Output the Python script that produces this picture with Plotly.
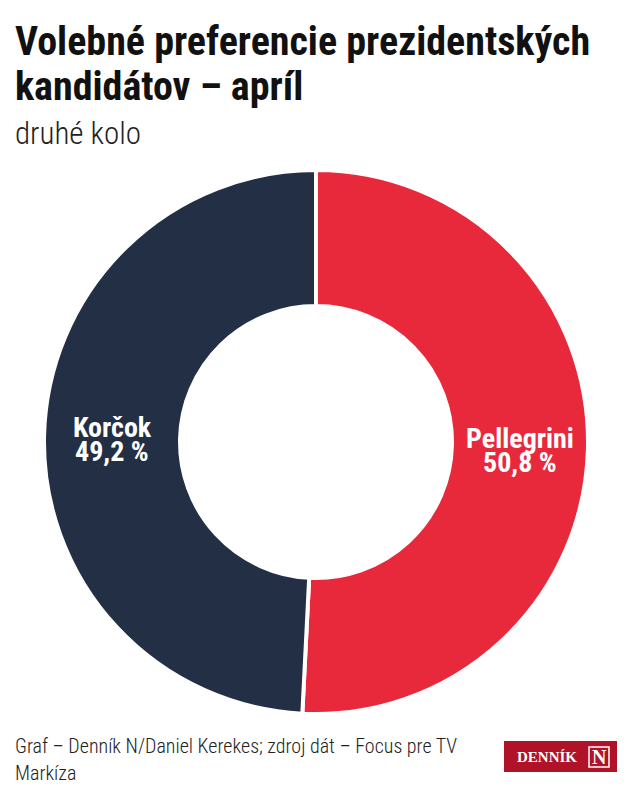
import math
import plotly.graph_objects as go

candidates = ["Pellegrini", "Korčok"]
shares = [50.8, 49.2]
share_labels = ["50,8 %", "49,2 %"]
colors = ["#E8293B", "#232F45"]

title_lines = ["Volebné preferencie prezidentských", "kandidátov – apríl"]
subtitle = "druhé kolo"
footer_lines = ["Graf – Denník N/Daniel Kerekes; zdroj dát – Focus pre TV", "Markíza"]

W, H = 632, 800
COND = "Roboto Condensed, Liberation Sans Narrow, Roboto, sans-serif"
SERIF = "Liberation Serif, DejaVu Serif, serif"

# pie geometry (pixels)
cx, cy, R, HOLE = 316, 442, 272, 0.5

fig = go.Figure(go.Pie(
    labels=candidates,
    values=shares,
    textinfo="none",
    marker=dict(colors=colors, line=dict(color="white", width=4)),
    hole=HOLE,
    sort=False,
    direction="clockwise",
    rotation=0,
    showlegend=False,
    hoverinfo="label+percent",
    domain=dict(x=[(cx - R) / W, (cx + R) / W], y=[1 - (cy + R) / H, 1 - (cy - R) / H]),
))

def px(x, y):
    return x / W, 1 - y / H

annotations = []

# slice labels at centroid of each ring segment, computed from data
total = sum(shares)
start = 0.0
rmid = R * (1 + HOLE) / 2
for name, val, lab in zip(candidates, shares, share_labels):
    mid = start + val / total * 360 / 2
    start += val / total * 360
    ang = math.radians(mid)  # clockwise from top
    lx = cx + rmid * math.sin(ang)
    ly = cy - rmid * math.cos(ang) + 3
    for txt, dy in ((name, -12), (lab, 12)):
        x, y = px(lx, ly + dy)
        annotations.append(dict(text=f"<b>{txt}</b>", x=x, y=y, xref="paper", yref="paper",
                                xanchor="center", yanchor="middle", showarrow=False,
                                font=dict(family=COND, size=28, color="white")))

def add_text(txt, x, y, size, color, weight=None, family=COND, xanchor="left"):
    xx, yy = px(x, y)
    f = dict(family=family, size=size, color=color)
    if weight:
        f["weight"] = weight
    annotations.append(dict(text=txt, x=xx, y=yy, xref="paper", yref="paper",
                            xanchor=xanchor, yanchor="middle", align="left",
                            showarrow=False, font=f))

add_text(f"<b>{title_lines[0]}</b>", 13, 42, 40, "#111")
add_text(f"<b>{title_lines[1]}</b>", 13, 86, 40, "#111")
add_text(subtitle, 13, 133, 31, "#222", weight=300)
add_text(footer_lines[0], 13, 746, 20, "#222", weight=300)
add_text(footer_lines[1], 13, 773, 20, "#222", weight=300)
add_text("<b>DENNÍK</b>", 547, 757, 15, "white", family=SERIF, xanchor="center")
add_text("<b>N</b>", 599, 757, 20, "white", family=SERIF, xanchor="center")

x0, y0 = px(504, 772)
x1, y1 = px(617, 741)
bx0, by0 = px(589, 767)
bx1, by1 = px(609, 747)

fig.update_layout(
    width=W, height=H,
    margin=dict(l=0, r=0, t=0, b=0),
    paper_bgcolor="white",
    plot_bgcolor="white",
    annotations=annotations,
    shapes=[
        dict(type="rect", xref="paper", yref="paper", x0=x0, x1=x1, y0=y0, y1=y1,
             fillcolor="#B01227", line=dict(width=0), layer="below"),
        dict(type="rect", xref="paper", yref="paper", x0=bx0, x1=bx1, y0=by0, y1=by1,
             fillcolor="rgba(0,0,0,0)", line=dict(width=1.5, color="white")),
    ],
)

fig.write_html("out.html", config={"displayModeBar": False},
               post_script="document.body.style.margin='0';document.body.style.overflow='hidden';")
